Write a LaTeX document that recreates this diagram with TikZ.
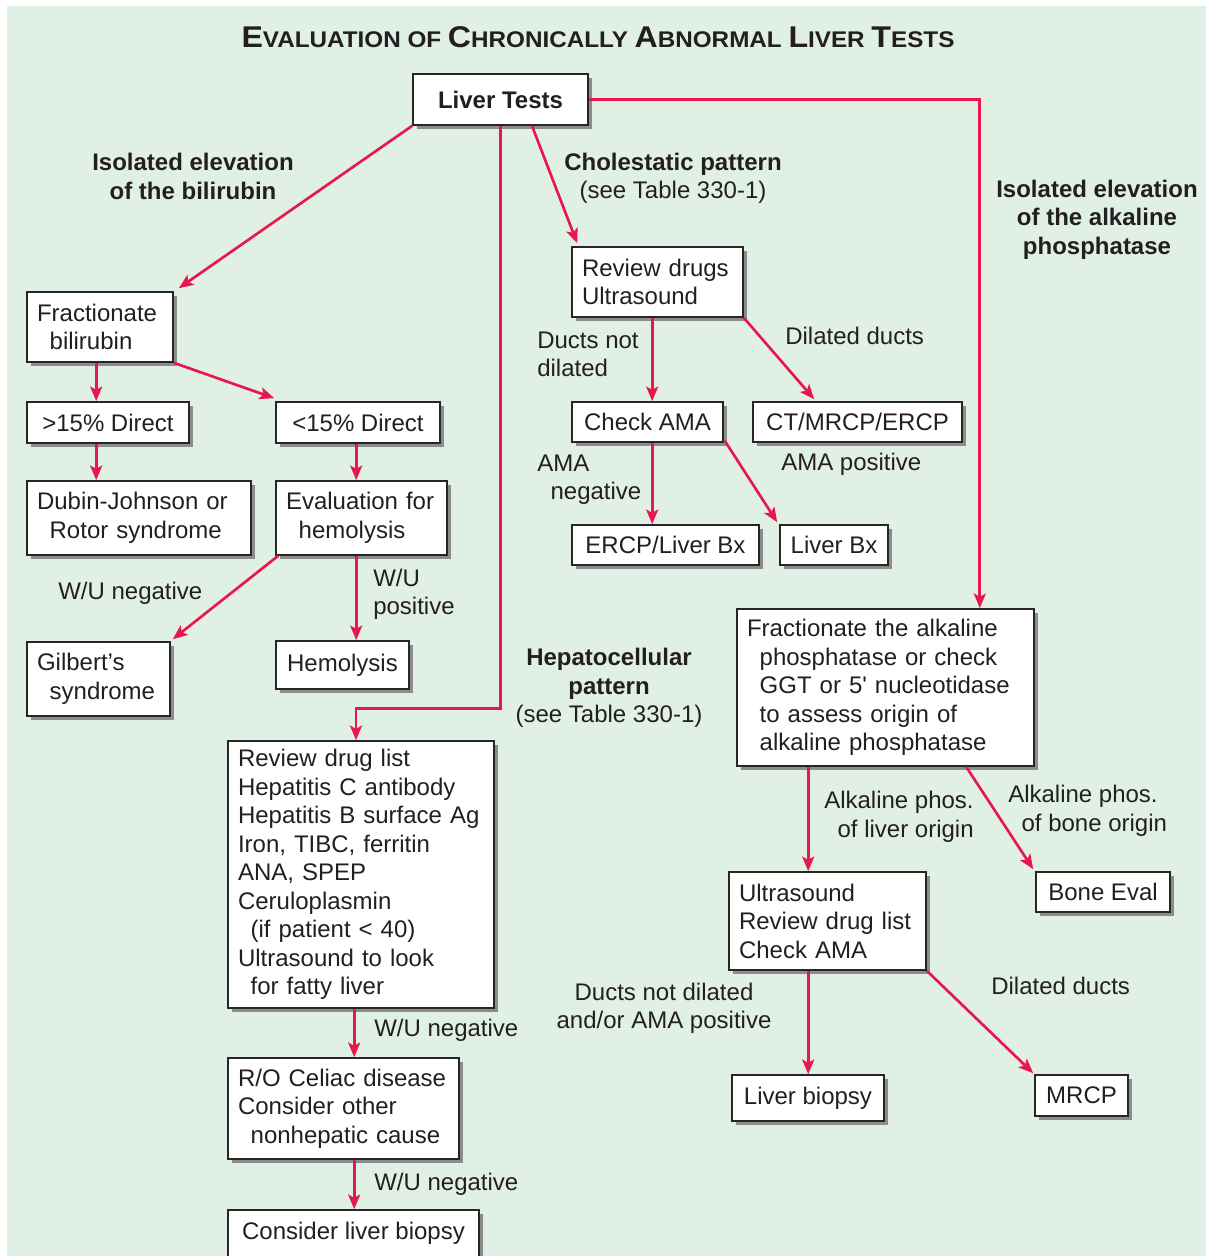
\documentclass[tikz,border=0pt]{standalone}
\usepackage{graphicx}
\usepackage{fontspec}
\setmainfont{Liberation Sans}[Ligatures=TeXOff]
\usetikzlibrary{arrows.meta,calc,shadows}
\definecolor{bgc}{RGB}{225,240,229}
\definecolor{arrc}{RGB}{232,24,78}
\definecolor{shd}{RGB}{140,140,140}
\definecolor{txt}{RGB}{35,31,32}
\newcommand{\tcap}[1]{{\fontsize{22.5}{24}\selectfont #1}}
\begin{document}
\begin{tikzpicture}[x=0.75pt,y=-0.75pt,
  font=\fontsize{18}{21.4}\selectfont, text=txt,
  box/.style={draw=black!85, line width=1.2pt, fill=white, inner xsep=7.5pt, inner ysep=3pt,
    general shadow={fill=shd, shadow xshift=3pt, shadow yshift=-3pt}},
  mbox/.style 2 args={box, align=left, text width=#1, minimum height=#2},
  sbox/.style 2 args={box, align=center, minimum width=#1, minimum height=#2},
  lbl/.style={inner sep=0pt},
  bold/.style={font=\fontsize{18}{21.4}\selectfont\bfseries},
  arr/.style={draw=arrc, line width=2pt, -{Stealth[length=11pt,width=9pt,inset=2.5pt]}}
]
\useasboundingbox (0,0) rectangle (1206,1256);
\fill[bgc] (7,6) rectangle (1206,1256);

% title
\node (title) at (598,37) {\scalebox{1.07}[1]{\bfseries\fontsize{17}{20}\selectfont\tcap{E}VALUATION OF \tcap{C}HRONICALLY \tcap{A}BNORMAL \tcap{L}IVER \tcap{T}ESTS}};

% boxes
\node[sbox={131.25pt}{38.25pt}, bold] (lt) at (500.5,99.5) {Liver Tests};
\node[mbox={94.5pt}{52.5pt}] (fb) at (100,327) {Fractionate\\\hspace*{9.5pt}bilirubin};
\node[sbox={121.5pt}{30.75pt}] (gt) at (108,422.5) {>15\% Direct};
\node[sbox={123pt}{30.75pt}] (lf) at (358,422.5) {<15\% Direct};
\node[mbox={153pt}{55.5pt}] (dj) at (139,518) {Dubin-Johnson or\\\hspace*{9.5pt}Rotor syndrome};
\node[mbox={113.25pt}{55.5pt}] (ev) at (361.5,518) {Evaluation for\\\hspace*{9.5pt}hemolysis};
\node[mbox={92.25pt}{55.5pt}] (gs) at (98.5,679) {Gilbert’s\\\hspace*{9.5pt}syndrome};
\node[sbox={99.75pt}{36pt}] (he) at (342.5,665) {Hemolysis};
\node[mbox={113.25pt}{52.5pt}] (rd) at (657.5,282) {Review drugs\\Ultrasound};
\node[sbox={113.25pt}{30pt}] (ca) at (647.5,422) {Check AMA};
\node[sbox={156.75pt}{30pt}] (ct) at (857.5,422) {CT/MRCP/ERCP};
\node[sbox={140.25pt}{30pt}] (el) at (665.5,545) {ERCP/Liver Bx};
\node[sbox={81pt}{30pt}] (lb) at (834,545) {Liver Bx};
\node[mbox={207.75pt}{117.75pt}] (fa) at (885.5,687.5) {Fractionate the alkaline\\\hspace*{9.5pt}phosphatase or check\\\hspace*{9.5pt}GGT or 5' nucleotidase\\\hspace*{9.5pt}to assess origin of\\\hspace*{9.5pt}alkaline phosphatase};
\node[mbox={184.5pt}{200.25pt}] (rl) at (361,874.5) {Review drug list\\Hepatitis C antibody\\Hepatitis B surface Ag\\Iron, TIBC, ferritin\\ANA, SPEP\\Ceruloplasmin\\\hspace*{9.5pt}(if patient < 40)\\Ultrasound to look\\\hspace*{9.5pt}for fatty liver};
\node[mbox={158.25pt}{75.75pt}] (ro) at (343.5,1108.5) {R/O Celiac disease\\Consider other\\\hspace*{9.5pt}nonhepatic cause};
\node[sbox={188.25pt}{35.25pt}] (cl) at (353.5,1233.5) {Consider liver biopsy};
\node[mbox={132.75pt}{73.5pt}] (us) at (827.5,921) {Ultrasound\\Review drug list\\Check AMA};
\node[sbox={100.5pt}{30pt}] (be) at (1103,892) {Bone Eval};
\node[sbox={114pt}{34.5pt}] (lbi) at (808,1098) {Liver biopsy};
\node[sbox={69.75pt}{30.75pt}] (mr) at (1081.5,1095.5) {MRCP};

% labels
\node[lbl, align=center, bold] (l1) at (193,176.5) {Isolated elevation\\of the bilirubin};
\node[lbl, align=center] (l2) at (673,178.5) {\textbf{Cholestatic pattern}\\(see Table 330-1)};
\node[lbl, align=center, bold] (l3) at (1097,219.5) {Isolated elevation\\of the alkaline\\phosphatase};
\node[lbl, align=left, anchor=west] (l4) at (537,354.5) {Ducts not\\dilated};
\node[lbl, anchor=west] (l5) at (785,336) {Dilated ducts};
\node[lbl, align=left, anchor=west] (l6) at (537,479.5) {AMA\\\hspace*{10pt}negative};
\node[lbl, anchor=west] (l7) at (781,464) {AMA positive};
\node[lbl, anchor=west] (l8) at (58,593) {W/U negative};
\node[lbl, align=left, anchor=west] (l9) at (373,594.5) {W/U\\positive};
\node[lbl, align=center] (l10) at (609,688) {\textbf{Hepatocellular}\\\textbf{pattern}\\(see Table 330-1)};
\node[lbl, align=left, anchor=west] (l11) at (824,817) {Alkaline phos.\\\hspace*{10pt}of liver origin};
\node[lbl, align=left, anchor=west] (l12) at (1008,811) {Alkaline phos.\\\hspace*{10pt}of bone origin};
\node[lbl, align=center] (l13) at (664,1008.5) {Ducts not dilated\\and/or AMA positive};
\node[lbl, anchor=west] (l14) at (991,986) {Dilated ducts};
\node[lbl, anchor=west] (l15) at (374,1030) {W/U negative};
\node[lbl, anchor=west] (l16) at (374,1184) {W/U negative};

% connectors
\draw[arr] (lt.south west) -- ($(fb.north east)+(5,-3)$);
\draw[arr] ($(lt.south)+(31.5,0)$) -- ($(rd.north west)+(6,-3)$);
\draw[arr] (lt.south) |- ($(rl.north)+(-5,-32)$) -- ($(rl.north)+(-5,0)$);
\draw[arr] (lt.east) -| ($(fa.north east)+(-55,0)$);
\draw[arr] ($(fb.south west)+(70,0)$) -- ($(gt.north west)+(70,0)$);
\draw[arr] (fb.south east) -- ($(lf.north west)+(-1,-3)$);
\draw[arr] ($(gt.south west)+(70,0)$) -- ($(dj.north west)+(70,0)$);
\draw[arr] ($(lf.south west)+(81,0)$) -- ($(ev.north west)+(81,0)$);
\draw[arr] ($(ev.south west)+(3,0)$) -- ($(gs.north east)+(2,-2)$);
\draw[arr] ($(ev.south west)+(81,0)$) -- ($(he.north west)+(81,0)$);
\draw[arr] ($(rd.south west)+(81,0)$) -- ($(ca.north west)+(81,0)$);
\draw[arr] (rd.south east) -- ($(ct.north west)+(62,-2)$);
\draw[arr] ($(ca.south west)+(81,0)$) -- ($(el.north west)+(81,0)$);
\draw[arr] ($(ca.south east)+(1,-2)$) -- ($(lb.north west)+(-2,-2)$);
\draw[arr] ($(fa.south west)+(72,0)$) -- ($(us.north west)+(80,0)$);
\draw[arr] ($(fa.south west)+(230,0)$) -- ($(be.north west)+(-2,-2)$);
\draw[arr] ($(us.south west)+(80,0)$) -- ($(lbi.north west)+(77,0)$);
\draw[arr] (us.south east) -- ($(mr.north west)+(-1,-1)$);
\draw[arr] ($(rl.south west)+(127,0)$) -- ($(ro.north west)+(127,0)$);
\draw[arr] ($(ro.south west)+(127,0)$) -- ($(cl.north west)+(127,0)$);
\end{tikzpicture}
\end{document}
